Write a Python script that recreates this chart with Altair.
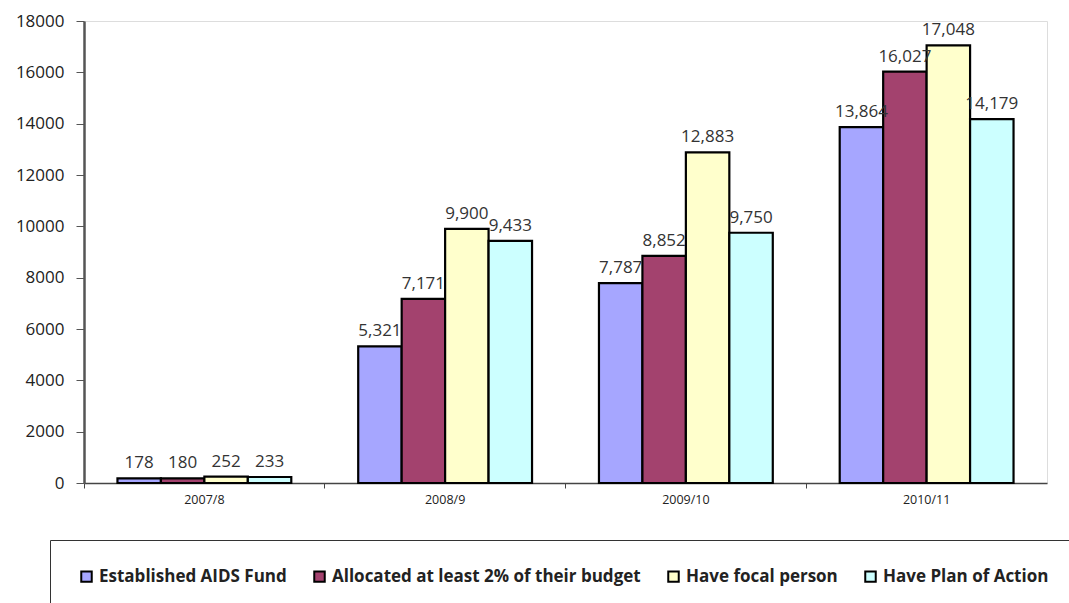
import altair as alt
import pandas as pd

years = ["2007/8", "2008/9", "2009/10", "2010/11"]
series = [
    "Established AIDS Fund",
    "Allocated at least 2% of their budget",
    "Have focal person",
    "Have Plan of Action",
]
fund = [178, 5321, 7787, 13864]
allocated = [180, 7171, 8852, 16027]
focal = [252, 9900, 12883, 17048]
plan = [233, 9433, 9750, 14179]
colors = ["#A6A6FF", "#A3426E", "#FFFFCC", "#CCFFFF"]

rows = []
for s, vals in zip(series, [fund, allocated, focal, plan]):
    for y, v in zip(years, vals):
        rows.append({"year": y, "series": s, "value": v})
df = pd.DataFrame(rows)

FONT = "Open Sans"

x = alt.X(
    "year:N",
    sort=years,
    title=None,
    scale=alt.Scale(paddingInner=0, paddingOuter=0),
    axis=alt.Axis(
        labelAngle=0,
        labelFont=FONT,
        labelFontSize=12.5,
        labelColor="#222",
        labelPadding=5,
        domainColor="#444",
        domainWidth=1.5,
        tickColor="#444",
        tickSize=5,
        bandPosition=0,
    ),
)
xo = alt.XOffset(
    "series:N",
    sort=series,
    scale=alt.Scale(paddingInner=0, paddingOuter=0.77),
)
y = alt.Y(
    "value:Q",
    title=None,
    scale=alt.Scale(domain=[0, 18000]),
    axis=alt.Axis(
        values=list(range(0, 18001, 2000)),
        format="d",
        grid=False,
        labelFont=FONT,
        labelFontSize=17,
        labelColor="#222",
        labelPadding=12,
        domainColor="#555",
        domainWidth=2.5,
        tickColor="#555",
        tickSize=8,
    ),
)

bars = alt.Chart(df).mark_bar(stroke="black", strokeWidth=2.2).encode(
    x=x,
    xOffset=xo,
    y=y,
    color=alt.Color(
        "series:N",
        sort=series,
        scale=alt.Scale(domain=series, range=colors),
        legend=alt.Legend(
            title=None,
            orient="none",
            legendX=-34,
            legendY=519,
            direction="horizontal",
            columns=4,
            columnPadding=23,
            padding=28,
            strokeColor="#333",
            symbolType="square",
            symbolSize=110,
            symbolStrokeColor="black",
            symbolStrokeWidth=2,
            labelFont=FONT,
            labelFontWeight="bold",
            labelFontSize=17,
            labelColor="#222",
            labelLimit=400,
            labelOffset=4,
        ),
    ),
)

labels = alt.Chart(df).mark_text(
    dy=-6, font=FONT, fontSize=17, color="#333", baseline="bottom"
).encode(
    x=x,
    xOffset=xo,
    y="value:Q",
    text=alt.Text("value:Q", format=","),
)

chart = (
    alt.layer(bars, labels)
    .properties(
        width=963,
        height=462,
        autosize=alt.AutoSizeParams(type="none"),
        padding={"left": 84, "top": 21, "right": 22, "bottom": 120},
    )
    .configure_view(stroke="#c8c8c8", strokeWidth=1)
    .configure(background="white")
)

chart.save("out.html", embed_options={"renderer": "svg", "actions": False})
